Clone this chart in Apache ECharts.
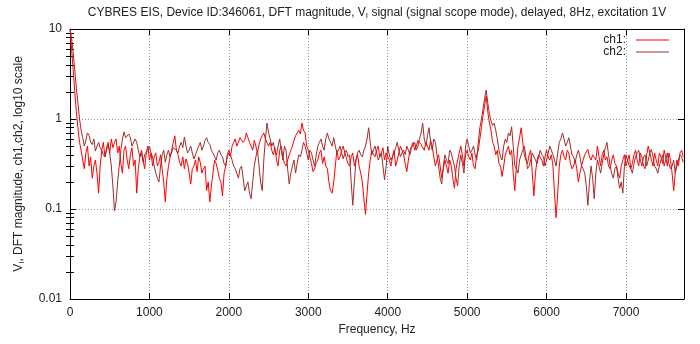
<!DOCTYPE html>
<html>
<head>
<meta charset="utf-8">
<script src="https://cdn.jsdelivr.net/npm/echarts@6/dist/echarts.min.js"></script>
<style>
html,body{margin:0;padding:0;background:#fff;}
#chart{width:700px;height:344px;}
</style>
</head>
<body>
<div id="chart"></div>
<script>
// DFT bin spacing (Hz) of the sampled points
const freqStep = 20;
// ch1 magnitudes, one per bin starting at 0 Hz
const ch1 = [
  10, 6, 3.5, 2.0, 1.2, 0.8, 0.55, 0.45, 0.35, 0.28, 0.42, 0.5, 0.3, 0.38, 0.22, 0.3, 0.35, 0.25, 0.15, 0.3, 0.45, 0.55, 0.38, 0.45, 0.52, 0.42, 0.6, 0.48, 0.55, 0.6, 0.42, 0.5, 0.32, 0.25, 0.45, 0.5, 0.35, 0.28, 0.4, 0.48, 0.3, 0.35, 0.15, 0.28, 0.38, 0.45, 0.35, 0.28, 0.42, 0.5,
  0.35, 0.42, 0.3, 0.38, 0.42, 0.3, 0.33, 0.4, 0.28, 0.2, 0.12, 0.22, 0.3, 0.38, 0.45, 0.55, 0.65, 0.45, 0.4, 0.33, 0.3, 0.38, 0.28, 0.36, 0.32, 0.25, 0.19, 0.28, 0.3, 0.35, 0.26, 0.38, 0.33, 0.25, 0.28, 0.3, 0.16, 0.2, 0.12, 0.18, 0.25, 0.35, 0.32, 0.27, 0.22, 0.2, 0.14, 0.25, 0.3, 0.38,
  0.42, 0.38, 0.5, 0.55, 0.6, 0.5, 0.55, 0.62, 0.65, 0.55, 0.58, 0.7, 0.62, 0.55, 0.5, 0.45, 0.58, 0.5, 0.42, 0.52, 0.6, 0.65, 0.7, 0.6, 0.62, 0.5, 0.55, 0.45, 0.4, 0.48, 0.35, 0.3, 0.45, 0.5, 0.38, 0.32, 0.3, 0.35, 0.4, 0.45, 0.5, 0.58, 0.65, 0.7, 0.75, 0.68, 0.9, 0.75, 0.7, 0.5,
  0.45, 0.38, 0.32, 0.26, 0.28, 0.33, 0.35, 0.42, 0.45, 0.32, 0.38, 0.3, 0.28, 0.2, 0.16, 0.15, 0.2, 0.3, 0.45, 0.35, 0.38, 0.45, 0.5, 0.42, 0.4, 0.32, 0.3, 0.38, 0.42, 0.3, 0.35, 0.4, 0.3, 0.25, 0.2, 0.13, 0.087, 0.15, 0.25, 0.35, 0.45, 0.4, 0.38, 0.45, 0.5, 0.38, 0.42, 0.48, 0.35, 0.42,
  0.4, 0.35, 0.3, 0.38, 0.45, 0.3, 0.35, 0.42, 0.5, 0.45, 0.4, 0.32, 0.26, 0.35, 0.45, 0.5, 0.55, 0.45, 0.5, 0.58, 0.6, 0.52, 0.5, 0.45, 0.55, 0.5, 0.45, 0.58, 0.5, 0.38, 0.3, 0.35, 0.4, 0.3, 0.22, 0.28, 0.35, 0.3, 0.25, 0.35, 0.3, 0.22, 0.17, 0.28, 0.35, 0.42, 0.5, 0.4, 0.3, 0.4,
  0.45, 0.38, 0.35, 0.42, 0.3, 0.28, 0.4, 0.45, 0.6, 0.8, 1.1, 1.4, 1.8, 1.2, 0.9, 0.75, 0.55, 0.5, 0.4, 0.45, 0.32, 0.3, 0.23, 0.3, 0.4, 0.45, 0.5, 0.4, 0.45, 0.25, 0.16, 0.3, 0.5, 0.62, 0.8, 0.55, 0.4, 0.35, 0.32, 0.4, 0.45, 0.25, 0.14, 0.25, 0.35, 0.4, 0.42, 0.35, 0.3, 0.38,
  0.45, 0.38, 0.35, 0.4, 0.3, 0.15, 0.08, 0.15, 0.3, 0.4, 0.45, 0.38, 0.35, 0.45, 0.42, 0.32, 0.28, 0.3, 0.35, 0.28, 0.2, 0.25, 0.3, 0.35, 0.4, 0.42, 0.46, 0.38, 0.35, 0.4, 0.42, 0.35, 0.5, 0.38, 0.3, 0.4, 0.45, 0.35, 0.38, 0.3, 0.28, 0.35, 0.4, 0.32, 0.3, 0.25, 0.22, 0.3, 0.35, 0.4,
  0.3, 0.35, 0.4, 0.28, 0.32, 0.4, 0.45, 0.35, 0.3, 0.42, 0.38, 0.3, 0.28, 0.4, 0.5, 0.42, 0.35, 0.3, 0.42, 0.35, 0.3, 0.42, 0.38, 0.32, 0.45, 0.38, 0.3, 0.42, 0.35, 0.25, 0.16, 0.25, 0.35, 0.3, 0.42, 0.45, 0.38
];
// ch2 magnitudes, one per bin starting at 0 Hz
const ch2 = [
  10, 8, 5.5, 3.5, 2.2, 1.5, 1.0, 0.75, 0.62, 0.5, 0.58, 0.7, 0.66, 0.55, 0.52, 0.6, 0.44, 0.5, 0.55, 0.48, 0.45, 0.4, 0.38, 0.48, 0.55, 0.42, 0.3, 0.18, 0.095, 0.12, 0.2, 0.3, 0.45, 0.6, 0.72, 0.62, 0.6, 0.68, 0.62, 0.5, 0.48, 0.6, 0.55, 0.45, 0.38, 0.42, 0.33, 0.4, 0.42, 0.45,
  0.5, 0.42, 0.38, 0.3, 0.25, 0.22, 0.2, 0.3, 0.4, 0.45, 0.33, 0.4, 0.45, 0.38, 0.38, 0.48, 0.5, 0.45, 0.42, 0.5, 0.55, 0.48, 0.63, 0.5, 0.42, 0.45, 0.5, 0.42, 0.36, 0.4, 0.45, 0.5, 0.55, 0.45, 0.5, 0.58, 0.62, 0.55, 0.52, 0.45, 0.42, 0.38, 0.35, 0.42, 0.45, 0.4, 0.38, 0.32, 0.3, 0.4,
  0.45, 0.4, 0.35, 0.3, 0.28, 0.25, 0.22, 0.28, 0.3, 0.22, 0.16, 0.18, 0.2, 0.15, 0.13, 0.2, 0.3, 0.38, 0.45, 0.3, 0.2, 0.16, 0.35, 0.6, 0.9, 0.7, 0.6, 0.5, 0.55, 0.45, 0.4, 0.5, 0.6, 0.45, 0.35, 0.5, 0.45, 0.28, 0.19, 0.25, 0.3, 0.35, 0.25, 0.32, 0.4, 0.38, 0.45, 0.55, 0.5, 0.42,
  0.35, 0.45, 0.42, 0.35, 0.3, 0.4, 0.5, 0.55, 0.6, 0.5, 0.45, 0.6, 0.7, 0.6, 0.55, 0.5, 0.62, 0.5, 0.42, 0.45, 0.5, 0.42, 0.36, 0.42, 0.45, 0.38, 0.4, 0.2, 0.11, 0.2, 0.35, 0.42, 0.45, 0.4, 0.38, 0.45, 0.5, 0.6, 0.8, 0.55, 0.4, 0.45, 0.5, 0.42, 0.35, 0.38, 0.42, 0.3, 0.21, 0.3,
  0.5, 0.4, 0.35, 0.38, 0.42, 0.48, 0.55, 0.45, 0.38, 0.42, 0.45, 0.4, 0.5, 0.45, 0.4, 0.48, 0.52, 0.55, 0.45, 0.5, 0.6, 0.7, 0.9, 0.6, 0.5, 0.65, 0.8, 0.55, 0.45, 0.6, 0.55, 0.4, 0.3, 0.22, 0.19, 0.3, 0.4, 0.35, 0.32, 0.45, 0.42, 0.35, 0.3, 0.22, 0.18, 0.3, 0.4, 0.32, 0.25, 0.5,
  0.6, 0.5, 0.42, 0.45, 0.5, 0.4, 0.35, 0.55, 0.8, 1.0, 1.3, 1.7, 2.1, 1.5, 1.15, 0.95, 0.85, 0.9, 0.75, 0.6, 0.45, 0.38, 0.35, 0.5, 0.6, 0.55, 0.7, 0.65, 0.82, 0.5, 0.3, 0.28, 0.25, 0.35, 0.4, 0.45, 0.5, 0.38, 0.28, 0.3, 0.35, 0.42, 0.4, 0.35, 0.32, 0.38, 0.45, 0.4, 0.38, 0.3,
  0.35, 0.42, 0.5, 0.45, 0.4, 0.35, 0.3, 0.42, 0.55, 0.6, 0.7, 0.6, 0.5, 0.55, 0.62, 0.5, 0.4, 0.38, 0.33, 0.4, 0.45, 0.38, 0.3, 0.28, 0.25, 0.18, 0.11, 0.2, 0.3, 0.22, 0.13, 0.25, 0.35, 0.3, 0.25, 0.32, 0.4, 0.48, 0.55, 0.4, 0.3, 0.25, 0.22, 0.28, 0.3, 0.22, 0.17, 0.2, 0.15, 0.3,
  0.4, 0.35, 0.3, 0.28, 0.25, 0.32, 0.38, 0.42, 0.45, 0.35, 0.3, 0.38, 0.4, 0.3, 0.35, 0.42, 0.46, 0.38, 0.3, 0.28, 0.25, 0.3, 0.35, 0.4, 0.3, 0.35, 0.42, 0.32, 0.28, 0.3, 0.35, 0.25, 0.3, 0.35, 0.4, 0.38, 0.33
];
const seriesNames = ['ch1', 'ch2'];
const seriesColors = ['#ff0000', '#a52a2a'];
const yMajorTicks = [0.01, 0.1, 1, 10];
const yMinorTicks = [0.02,0.03,0.04,0.05,0.06,0.07,0.08,0.09,0.2,0.3,0.4,0.5,0.6,0.7,0.8,0.9,2,3,4,5,6,7,8,9];

const FONT = 'Liberation Sans, Arial, sans-serif';
const toPairs = arr => arr.map((v, i) => [i * freqStep, v]);
// minor tick positions on a helper axis that spans the same decades (log10 units)
const minorTickPos = yMinorTicks.map(v => Math.log10(v));

const chart = echarts.init(document.getElementById('chart'), null, {renderer: 'canvas'});

const minorAxis = pos => ({
  type: 'value', min: -2, max: 1, position: pos,
  axisLine: {show: false},
  axisTick: {show: true, inside: true, length: 4, customValues: minorTickPos, lineStyle: {color: '#000', width: 1}},
  axisLabel: {show: false},
  splitLine: {show: false}
});

chart.setOption({
  animation: false,
  backgroundColor: '#fff',
  title: {
    text: 'CYBRES EIS, Device ID:346061, DFT magnitude, V{sub|I} signal (signal scope mode), delayed, 8Hz, excitation 1V',
    left: 377, top: 6, textAlign: 'center', padding: 0,
    textStyle: {
      fontFamily: FONT, fontSize: 12, fontWeight: 'normal', color: '#222',
      rich: {sub: {fontFamily: FONT, fontSize: 8, color: '#222', padding: [6, 0, 0, 0]}}
    }
  },
  legend: {
    orient: 'vertical', right: 31, top: 34, padding: 0,
    align: 'right', itemWidth: 33, itemHeight: 1, itemGap: 0, icon: 'rect',
    data: seriesNames,
    formatter: name => name + ':',
    textStyle: {fontFamily: FONT, fontSize: 12, color: '#222', lineHeight: 11, padding: [0, 5, 0, 0]}
  },
  grid: {left: 70, right: 16, top: 29, bottom: 45, containLabel: false},
  xAxis: [
    {
      type: 'value', min: 0, max: 7730, interval: 1000, position: 'bottom',
      name: 'Frequency, Hz', nameLocation: 'middle', nameGap: 25,
      nameTextStyle: {fontFamily: FONT, fontSize: 12, color: '#222'},
      axisLine: {show: true, onZero: false, lineStyle: {color: '#000', width: 1}},
      axisTick: {show: true, inside: true, length: 6, lineStyle: {color: '#000'}},
      axisLabel: {fontFamily: FONT, fontSize: 12, color: '#222', margin: 8, showMaxLabel: false,
        formatter: v => String(v)},
      splitLine: {show: true, lineStyle: {color: '#999', width: 1, type: [1, 2]}}
    },
    {
      type: 'value', min: 0, max: 7730, interval: 1000, position: 'top',
      axisLine: {show: true, onZero: false, lineStyle: {color: '#000', width: 1}},
      axisTick: {show: true, inside: true, length: 6, lineStyle: {color: '#000'}},
      axisLabel: {show: false},
      splitLine: {show: false}
    }
  ],
  yAxis: [
    {
      type: 'log', logBase: 10, min: 0.01, max: 10, position: 'left',
      name: 'V{sub|I}, DFT magnitude, ch1,ch2, log10 scale', nameLocation: 'middle', nameGap: 44,
      nameTextStyle: {fontFamily: FONT, fontSize: 12, color: '#222',
        rich: {sub: {fontFamily: FONT, fontSize: 8, color: '#222', padding: [6, 0, 0, 0]}}},
      axisLine: {show: true, onZero: false, lineStyle: {color: '#000', width: 1}},
      axisTick: {show: true, inside: true, length: 6, lineStyle: {color: '#000'}},
      axisLabel: {show: true, fontFamily: FONT, fontSize: 12, color: '#222', margin: 8, customValues: yMajorTicks,
        formatter: v => String(v)},
      splitLine: {show: true, lineStyle: {color: '#999', width: 1, type: [1, 2]}}
    },
    {
      type: 'log', logBase: 10, min: 0.01, max: 10, position: 'right',
      axisLine: {show: true, onZero: false, lineStyle: {color: '#000', width: 1}},
      axisTick: {show: true, inside: true, length: 6, lineStyle: {color: '#000'}},
      axisLabel: {show: false},
      splitLine: {show: false}
    },
    minorAxis('left'),
    minorAxis('right')
  ],
  series: [
    {name: seriesNames[0], type: 'line', data: toPairs(ch1), xAxisIndex: 0, yAxisIndex: 0,
     symbol: 'none', showSymbol: false, color: seriesColors[0], lineStyle: {color: seriesColors[0], width: 1}},
    {name: seriesNames[1], type: 'line', data: toPairs(ch2), xAxisIndex: 0, yAxisIndex: 0,
     symbol: 'none', showSymbol: false, color: seriesColors[1], lineStyle: {color: seriesColors[1], width: 1}}
  ]
});
</script>
</body>
</html>
